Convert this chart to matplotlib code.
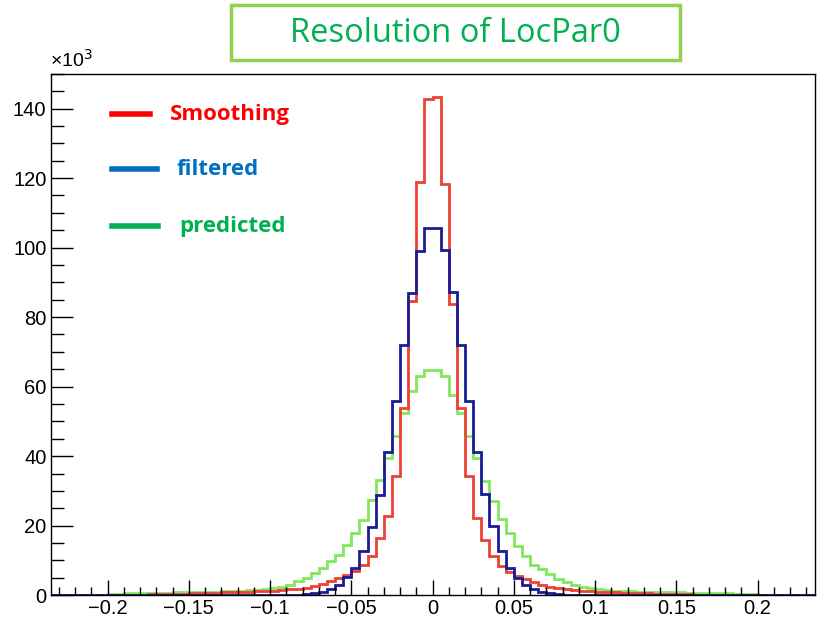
import numpy as np
import matplotlib.pyplot as plt
from matplotlib.patches import Rectangle
from matplotlib.lines import Line2D
from matplotlib.ticker import MultipleLocator

plt.rcParams['font.family'] = ['Liberation Sans', 'DejaVu Sans']
plt.rcParams['axes.unicode_minus'] = True

# bin edges: 94 bins of width 0.005 between -0.235 and 0.235
edges = np.linspace(-0.235, 0.235, 95)

# counts in units of 10^3, bins from left to right
smoothing = [
    0, 0, 0, 0, 0, 0, 0,
    0.05, 0.05, 0.1, 0.15, 0.2, 0.25, 0.3, 0.35, 0.4, 0.45,
    0.5, 0.55, 0.6, 0.7, 0.8, 0.9, 1.0, 1.05, 1.1, 1.2,
    1.35, 1.5, 1.7, 1.9, 2.2, 2.6, 3.3, 4.0, 4.9, 5.9,
    7.0, 8.8, 11.2, 16.5, 22.7, 34.2, 53.9, 84.5, 119.0, 142.8,
    143.3, 118.2, 83.7, 53.9, 34.4, 22.2, 16.0, 11.2, 8.3, 6.6,
    5.4, 4.6, 3.7, 3.0, 2.5, 2.2, 1.8, 1.5, 1.3, 1.15,
    1.05, 0.95, 0.85, 0.75, 0.65, 0.55, 0.5, 0.45, 0.4, 0.35,
    0.3, 0.25, 0.2, 0.2, 0.15, 0.15, 0.1, 0.1, 0.05, 0.05,
    0, 0, 0, 0, 0, 0, 0,
]
filtered = [
    0, 0, 0, 0, 0, 0, 0,
    0, 0, 0, 0, 0, 0, 0, 0, 0, 0,
    0, 0, 0, 0, 0, 0, 0, 0, 0, 0,
    0, 0.05, 0.1, 0.15, 0.25, 0.5, 1.0, 1.8, 3.0, 5.2,
    7.8, 12.6, 19.6, 28.7, 41.2, 55.8, 72.1, 86.8, 98.9, 105.7,
    105.7, 99.4, 87.1, 72.1, 56.0, 41.3, 29.2, 19.8, 12.6, 7.8,
    5.0, 2.8, 1.7, 1.0, 0.5, 0.25, 0.15, 0.1, 0.05, 0,
    0, 0, 0, 0, 0, 0, 0, 0, 0, 0,
    0, 0, 0, 0, 0, 0, 0, 0, 0, 0,
    0, 0, 0, 0, 0, 0, 0,
]
predicted = [
    0, 0, 0, 0, 0, 0, 0,
    0.4, 0.45, 0.5, 0.55, 0.6, 0.65, 0.7, 0.75, 0.8, 0.85,
    0.9, 0.95, 1.0, 1.05, 1.1, 1.2, 1.3, 1.4, 1.55, 1.8,
    2.1, 2.5, 3.0, 4.0, 4.9, 6.4, 7.8, 9.7, 11.7, 14.5,
    18.0, 21.7, 27.5, 33.2, 39.5, 45.7, 52.4, 58.6, 63.0, 64.9,
    64.9, 63.0, 57.7, 52.4, 45.7, 39.5, 32.8, 27.0, 21.8, 17.9,
    14.1, 11.2, 8.8, 7.5, 6.2, 4.8, 3.9, 3.0, 2.5, 2.1,
    1.8, 1.5, 1.3, 1.2, 1.1, 1.05, 1.0, 0.95, 0.9, 0.85,
    0.8, 0.75, 0.7, 0.65, 0.6, 0.55, 0.5, 0.45, 0.45, 0.4,
    0, 0, 0, 0, 0, 0, 0,
]

legend_labels = ['Smoothing', 'filtered', 'predicted']
legend_colors = ['#ff0000', '#0070c0', '#00b050']

fig = plt.figure(figsize=(8.17, 6.2), dpi=100)
ax = fig.add_axes([0.062, 0.040, 0.935, 0.841])

ax.stairs(predicted, edges, color='#80e85c', lw=2)
ax.stairs(smoothing, edges, color='#ee4035', lw=2)
ax.stairs(filtered, edges, color='#1c1c96', lw=2)

ax.set_xlim(-0.235, 0.235)
ax.set_ylim(0, 150)

ax.xaxis.set_major_locator(MultipleLocator(0.05))
ax.xaxis.set_minor_locator(MultipleLocator(0.01))
ax.yaxis.set_major_locator(MultipleLocator(20))
ax.yaxis.set_minor_locator(MultipleLocator(5))
ax.set_xticks([-0.2, -0.15, -0.1, -0.05, 0, 0.05, 0.1, 0.15, 0.2])
ax.set_xticklabels(['\u22120.2', '\u22120.15', '\u22120.1', '\u22120.05', '0',
                    '0.05', '0.1', '0.15', '0.2'])
ax.tick_params(axis='x', which='major', direction='in', length=11, width=1,
               labelsize=14.5, pad=3)
ax.tick_params(axis='x', which='minor', direction='in', length=5.5, width=1)
ax.tick_params(axis='y', which='major', direction='in', length=16, width=1,
               labelsize=14.5, pad=3)
ax.tick_params(axis='y', which='minor', direction='in', length=9, width=1)
for s in ax.spines.values():
    s.set_linewidth(1)

fig.text(0.061, 0.885, '\u00d710$^3$', fontsize=14, ha='left', va='bottom')

# title box
fig.patches.append(Rectangle((0.283, 0.903), 0.549, 0.089, transform=fig.transFigure,
                             fill=False, edgecolor='#92d050', lw=2.5))
fig.text(0.5575, 0.946, 'Resolution of LocPar0', color='#00b050', fontsize=23.5,
         ha='center', va='center', family=['Open Sans', 'DejaVu Sans'])

# manual legend
ly = [0.816, 0.727, 0.635]
line_end = [0.184, 0.192, 0.193]
text_x = [0.208, 0.216, 0.219]
for lab, c, y, x1, tx in zip(legend_labels, legend_colors, ly, line_end, text_x):
    fig.add_artist(Line2D([0.137, x1], [y, y], transform=fig.transFigure,
                          color=c, lw=4))
    fig.text(tx, y, lab, color=c, fontsize=16, fontweight='bold',
             ha='left', va='center', family=['Open Sans', 'DejaVu Sans'])

fig.savefig('out.png', dpi=100)
